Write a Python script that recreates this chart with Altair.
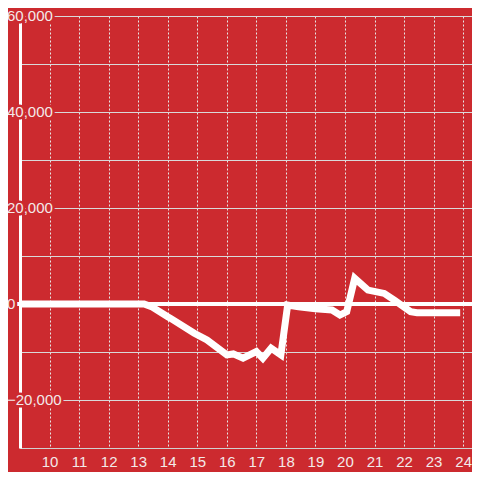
import altair as alt
import pandas as pd

# data
hours = [9.0, 13.2, 13.45, 14.0, 14.1, 14.9, 15.33, 16.0, 16.22, 16.55, 17.0, 17.22,
         17.5, 17.83, 18.06, 18.43, 19.0, 19.56, 19.83, 20.06, 20.33, 20.78, 21.33,
         21.67, 22.22, 22.44, 23.9]
values = [0, 0, -550, -2650, -3000, -6100, -7500, -10600, -10400, -11300, -9900, -11300,
          -9200, -10600, -200, -600, -1000, -1250, -2300, -1600, 5350, 2900, 2200,
          800, -1600, -1800, -1800]
x_ticks = list(range(10, 25))
y_grid = list(range(-30000, 60001, 10000))
y_labels = [60000, 40000, 20000, 0, -20000]
zero_line = [0]

BG = "#cc2a2f"
LABEL = "#f3e9e9"
FONT = "Liberation Sans"

df = pd.DataFrame({"hour": hours, "value": values})
lab_df = pd.DataFrame({"value": y_labels})

x_scale = alt.Scale(domain=[9, 24.3], nice=False, zero=False)
y_scale = alt.Scale(domain=[-30000, 60000], nice=False, zero=False)

line = alt.Chart(df).mark_line(color="white", strokeWidth=7).encode(
    x=alt.X("hour:Q", scale=x_scale, axis=alt.Axis(
        values=x_ticks, title=None, grid=True, gridDash=[2, 2], gridColor="#e6e6e6",
        gridWidth=1, ticks=False, domainColor="#d0d0d0", domainWidth=1,
        labelColor=LABEL, labelFontSize=15, labelFont=FONT, labelPadding=6,
        labelFlush=False, format="d")),
    y=alt.Y("value:Q", scale=y_scale, axis=alt.Axis(
        values=y_grid, title=None, grid=True, gridColor="#d9d9d9", gridWidth=1,
        ticks=False, domainColor="white", domainWidth=3, labels=False)),
)

zero = alt.Chart(pd.DataFrame({"value": zero_line})).mark_rule(
    color="white", strokeWidth=4).encode(
    y=alt.Y("value:Q", scale=y_scale),
    x=alt.value(-3), x2=alt.value(452),
)

label_base = alt.Chart(lab_df).transform_calculate(
    txt="format(datum.value, ',')"
).encode(
    y=alt.Y("value:Q", scale=y_scale),
    x=alt.value(-13),
    text="txt:N",
)
halo = label_base.mark_text(
    align="left", baseline="middle", font=FONT, fontSize=15,
    fill=BG, stroke=BG, strokeWidth=5, strokeJoin="round")
labels = label_base.mark_text(
    align="left", baseline="middle", font=FONT, fontSize=15, color=LABEL)

chart = alt.layer(zero, line, halo, labels).properties(
    width=452, height=432,
    background=BG,
    autosize=alt.AutoSizeParams(type="none"),
    padding={"left": 12, "top": 8, "right": 0, "bottom": 24},
).configure_view(strokeWidth=0)

chart.save("out.html", embed_options={"renderer": "svg", "actions": False})
